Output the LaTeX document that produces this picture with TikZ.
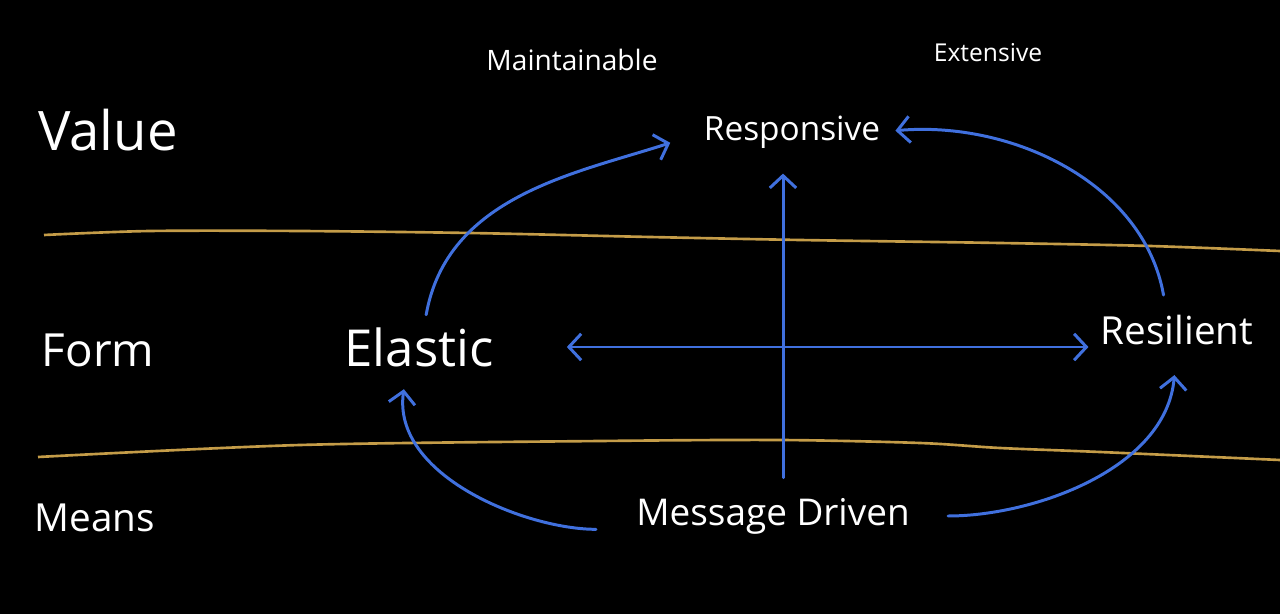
\documentclass[tikz,border=0pt]{standalone}
\usepackage{fontspec}
\setmainfont{Open Sans}
\usepackage{tikz}
\usetikzlibrary{positioning,arrows.meta,calc}

\definecolor{inkblue}{RGB}{64,112,222}
\definecolor{gold}{RGB}{196,156,72}

\begin{document}
\begin{tikzpicture}[
  x=0.02cm,y=-0.02cm,
  lbl/.style={text=white,inner sep=0pt,font=\fontsize{#1}{#1}\selectfont},
  flow/.style={draw=inkblue,line width=1.7pt,line cap=round,-{Straight Barb[length=7pt,width=15pt]}},
  both/.style={flow,{Straight Barb[length=7pt,width=15pt]}-{Straight Barb[length=7pt,width=15pt]}},
  layer/.style={draw=gold,line width=1.5pt},
]
% background
\fill[black] (0,0) rectangle (1280,614);
\useasboundingbox (0,0) rectangle (1280,614);

% layer names
\node[lbl=31pt] (value) at (108,130) {Value};
\node[lbl=26pt] (form) at (98,350) {Form};
\node[lbl=22pt] (means) at (95,518) {Means};

% qualities on top
\node[lbl=16pt] (maint) at (572,60) {Maintainable};
\node[lbl=14pt] (extens) at (988,53) {Extensive};

% traits
\node[lbl=19pt] (responsive) at (792,132) {Responsive};
\node[lbl=29pt] (elastic) at (419,347) {Elastic};
\node[lbl=22pt] (resilient) at (1177,330) {Resilient};
\node[lbl=21pt] (message) at (773,516) {Message Driven};

% layer borders
\draw[layer] plot[smooth] coordinates {(44,235) (150,231) (300,231) (470,233) (650,237) (800,240) (1000,243) (1150,246) (1280,251)};
\draw[layer] plot[smooth] coordinates {(38,457) (300,445) (600,441) (780,440) (920,443) (1000,448) (1100,452) (1280,460)};

% arrows
\draw[flow,shorten <=0.25cm,shorten >=0.7cm] ([xshift=0.1cm]elastic.north) to[out=80,in=198] (responsive.west);
\draw[flow,shorten <=0.4cm,shorten >=0.3cm] ([xshift=-0.2cm]resilient.north) to[out=100,in=5] (responsive.east);
\draw[flow,shorten <=0.4cm,shorten >=0.5cm] ([xshift=0.2cm]message.north) -- ([xshift=0.2cm]message.north |- responsive.south);
\draw[both,shorten <=1.46cm,shorten >=0.24cm] (elastic.east) -- (elastic.east -| resilient.west);
\draw[flow,shorten <=0.8cm,shorten >=0.45cm] ([yshift=0.1cm]message.south west) to[out=180,in=-98] ([xshift=-0.24cm]elastic.south);
\draw[flow,shorten <=0.76cm,shorten >=0.6cm] (message.east) to[out=0,in=-95] (resilient.south);
\end{tikzpicture}
\end{document}
